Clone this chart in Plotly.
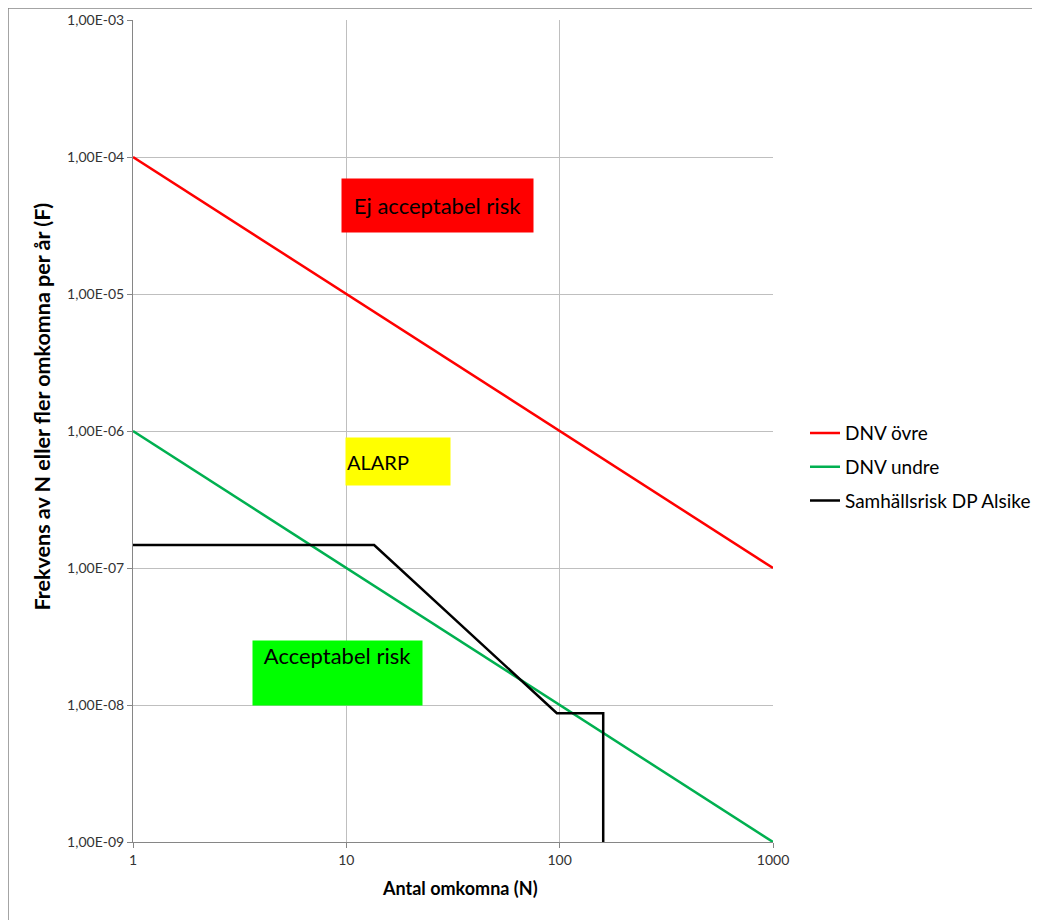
import plotly.graph_objects as go

# Data
n_limits = [1, 1000]
dnv_ovre = [1e-4, 1e-7]
dnv_undre = [1e-6, 1e-9]
n_samhall = [1, 13.5, 97, 160, 160]
f_samhall = [1.47e-7, 1.47e-7, 8.7e-9, 8.7e-9, 1e-9]

y_tickvals = [1e-9, 1e-8, 1e-7, 1e-6, 1e-5, 1e-4, 1e-3]
y_ticktext = ["1,00E-09", "1,00E-08", "1,00E-07", "1,00E-06", "1,00E-05", "1,00E-04", "1,00E-03"]
x_tickvals = [1, 10, 100, 1000]
x_ticktext = ["1", "10", "100", "1000"]

FONT = "Lato, 'Open Sans', sans-serif"

fig = go.Figure()
fig.add_trace(go.Scatter(x=n_limits, y=dnv_ovre, mode="lines", name="DNV övre", legendgroup="a",
                         line=dict(color="#ff0000", width=2.5)))
fig.add_trace(go.Scatter(x=n_limits, y=dnv_undre, mode="lines", name="DNV undre", legendgroup="b",
                         line=dict(color="#00b050", width=2.5)))
fig.add_trace(go.Scatter(x=n_samhall, y=f_samhall, mode="lines", name="Samhällsrisk DP Alsike",
                         legendgroup="c", line=dict(color="#000000", width=2.5)))

fig.add_annotation(x=1.4275, y=-4.354, xref="x", yref="y", text="Ej acceptabel risk",
                   showarrow=False, bgcolor="#ff0000", width=189, height=51,
                   font=dict(family=FONT, size=22, color="#000000"), align="center", valign="middle")
fig.add_annotation(x=1.242, y=-6.223, xref="x", yref="y", text="ALARP",
                   showarrow=False, bgcolor="#ffff00", width=102, height=45,
                   font=dict(family=FONT, size=20, color="#000000"), align="left", valign="middle")
fig.add_annotation(x=0.9588, y=-7.766, xref="x", yref="y", text="Acceptabel risk",
                   showarrow=False, bgcolor="#00ff00", width=167, height=62,
                   font=dict(family=FONT, size=22, color="#000000"), align="center", valign="top")

# axis titles
fig.add_annotation(x=0.511, y=-0.056, xref="paper", yref="paper", text="<b>Antal omkomna (N)</b>",
                   showarrow=False, xanchor="center", yanchor="middle",
                   font=dict(family=FONT, size=18, color="#000000"))
fig.add_annotation(x=-0.142, y=0.530, xref="paper", yref="paper",
                   text="<b>Frekvens av N eller fler omkomna per år (F)</b>",
                   showarrow=False, xanchor="center", yanchor="middle", textangle=-90,
                   font=dict(family=FONT, size=21.5, color="#000000"))

# outer chart border
fig.add_shape(type="rect", xref="paper", yref="paper",
              x0=(0 - 125) / 640, x1=(1060 - 125) / 640,
              y0=-(940 - 834) / 822, y1=1 + 12 / 822,
              line=dict(color="#868686", width=1.5), fillcolor="rgba(0,0,0,0)", layer="below")

fig.update_layout(
    width=1032, height=912,
    margin=dict(l=125, r=267, t=12, b=78, autoexpand=False),
    paper_bgcolor="white", plot_bgcolor="white",
    font=dict(family=FONT, size=14, color="#000000"),
    showlegend=True,
    legend=dict(x=1.05, y=0.456, xanchor="left", yanchor="middle",
                font=dict(family=FONT, size=19, color="#000000"),
                tracegroupgap=6, itemwidth=30, bgcolor="rgba(0,0,0,0)"),
    xaxis=dict(type="log", range=[0, 3], tickvals=x_tickvals, ticktext=x_ticktext,
               showgrid=True, gridcolor="#bfbfbf", gridwidth=1,
               showline=True, linecolor="#868686", linewidth=1,
               ticks="outside", ticklen=5, tickcolor="#868686",
               tickfont=dict(family=FONT, size=14, color="#333333"),
               zeroline=False, automargin=False),
    yaxis=dict(type="log", range=[-9, -3], tickvals=y_tickvals, ticktext=y_ticktext,
               showgrid=True, gridcolor="#bfbfbf", gridwidth=1,
               showline=True, linecolor="#868686", linewidth=1,
               ticks="outside", ticklen=5, tickcolor="#868686",
               tickfont=dict(family=FONT, size=14, color="#333333"),
               zeroline=False, automargin=False),
)

fig.write_html("out.html")
